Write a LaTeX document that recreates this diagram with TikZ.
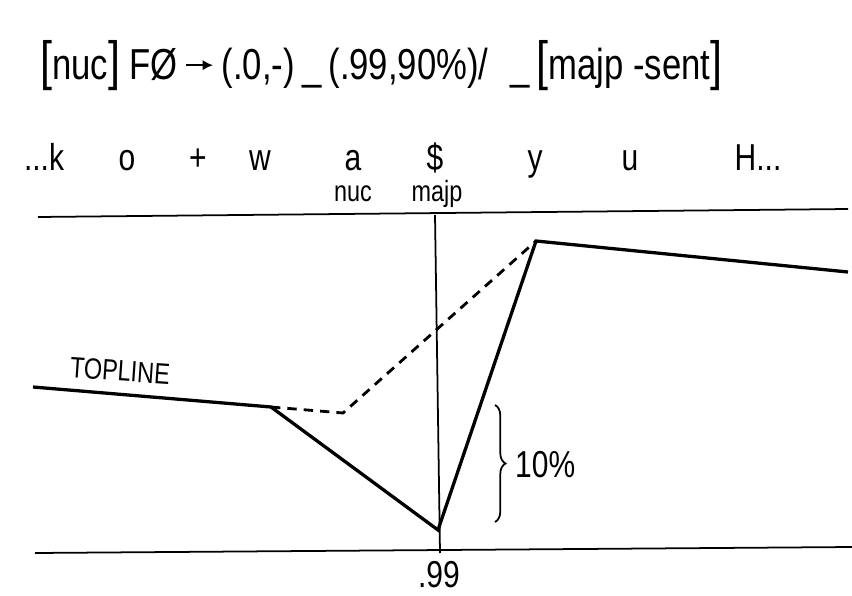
\documentclass[tikz,border=0pt]{standalone}
\usepackage{fontspec}
\setmainfont{Liberation Sans}[FakeStretch=0.8]
\usetikzlibrary{decorations.pathreplacing, arrows.meta}

\newcommand{\tallbr}[1]{{\fontsize{46}{46}\selectfont #1}}
\newcommand{\rulearrow}{\,\raisebox{0.22em}{\tikz\draw[line width=2.2pt,-{Latex[length=9pt,width=9pt]}] (0,0) -- (0.8cm,0);}\,}

\tikzset{
    rulefont/.style={inner sep=0pt, font=\fontsize{37}{37}\selectfont},
    seg/.style={inner sep=0pt, font=\fontsize{32}{32}\selectfont},
    small/.style={inner sep=0pt, font=\fontsize{25}{25}\selectfont},
    frame line/.style={line width=1.5pt},
    contour/.style={line width=2.8pt, line join=miter},
    alt contour/.style={line width=2.4pt, dash pattern=on 8pt off 6pt}
}

\begin{document}
\begin{tikzpicture}[x=0.03cm, y=-0.03cm]
    \useasboundingbox (0,0) rectangle (852,595);

    % rule
    \node[rulefont, anchor=base west] (rule) at (40,80)
        {\tallbr{[}nuc\tallbr{]} FØ\rulearrow(.0,-)\,\_\,(.99,90\%)/\enspace\_\,\tallbr{[}majp -sent\tallbr{]}};

    % segment string
    \node[seg, anchor=base] (k) at (44,170) {...k};
    \foreach \s/\x/\n in {o/127/o, +/198/plus, w/260/w, a/353/a, \$/435/dollar, y/535/y, u/630/u}
        \node[seg, anchor=base] (\n) at (\x,170) {\s};
    \node[seg, anchor=base] (H) at (758,170) {H...};
    \node[small] (nuc) at (353,194) {nuc};
    \node[small] (majp) at (437,194) {majp};

    % frame
    \coordinate (tl) at (38,217);
    \coordinate (tr) at (848,209);
    \coordinate (bl) at (35,553);
    \coordinate (br) at (852,547);
    \coordinate (vt) at (435,215);
    \coordinate (vb) at (440,553);
    \draw[frame line] (tl) -- (tr);
    \draw[frame line] (bl) -- (br);
    \draw[frame line] (vt) -- (vb);
    \node[seg] (peak) at (439,575) {.99};

    % F0 contour
    \coordinate (c0) at (33,387);
    \coordinate (c1) at (271,407);
    \coordinate (c2) at (438,530);
    \coordinate (c3) at (536,241);
    \coordinate (c4) at (848,272);
    \coordinate (d1) at (343,413);
    \draw[contour] (c0) -- (c1) -- (c2) -- (c3) -- (c4);
    \draw[alt contour] (c1) -- (d1) -- (c3);
    \node[small, rotate=-4] (topline) at (120,371) {TOPLINE};

    % drop
    \coordinate (bt) at (495,405);
    \coordinate (bb) at (495,522);
    \draw[line width=1.5pt, decorate, decoration={brace, amplitude=9pt}] (bt) -- (bb);
    \node[seg, anchor=west] (drop) at (515,465) {10\%};
\end{tikzpicture}
\end{document}
